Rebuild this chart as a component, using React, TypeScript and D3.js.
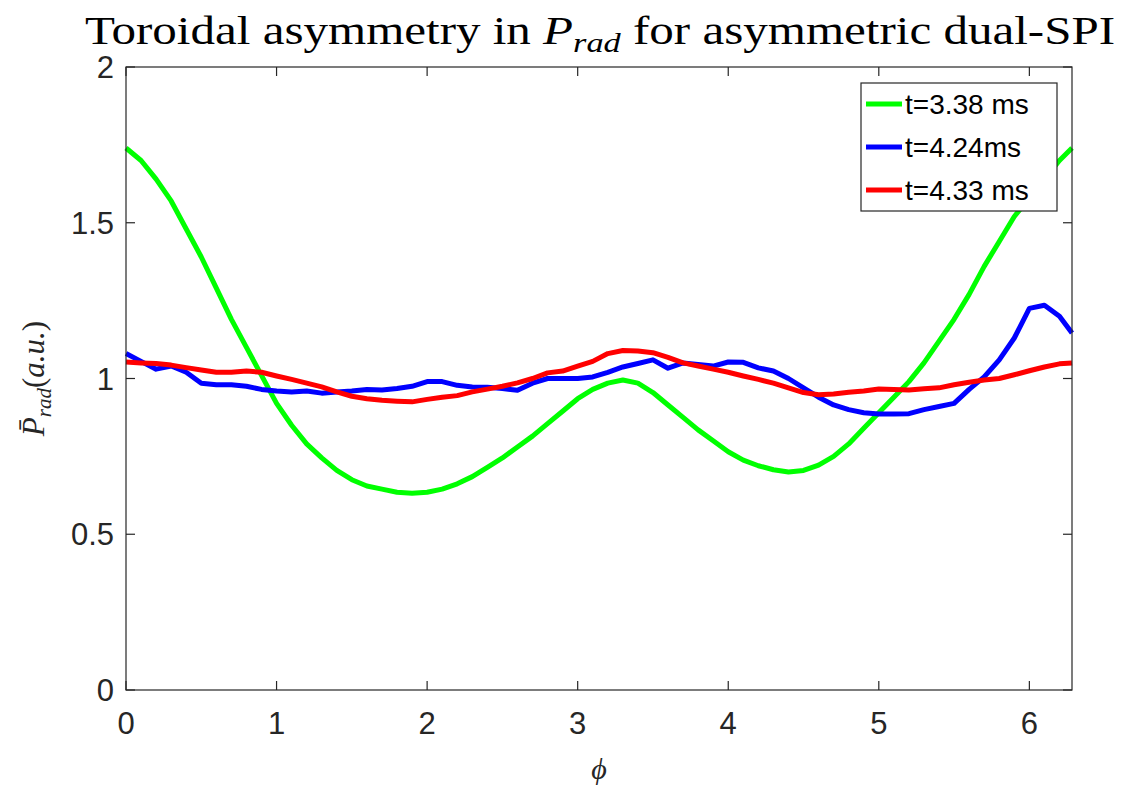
import React from "react";
import * as d3 from "d3";

const width = 1127, height = 788;
const margin = { left: 126, right: 55, top: 67, bottom: 98 };

// phi sample positions (rad)
const phi = [
  0, 0.1, 0.2, 0.3, 0.4, 0.5, 0.6, 0.7, 0.8, 0.9,
  1.0, 1.1, 1.2, 1.3, 1.4, 1.5, 1.6, 1.7, 1.8, 1.9,
  2.0, 2.1, 2.2, 2.3, 2.4, 2.5, 2.6, 2.7, 2.8, 2.9,
  3.0, 3.1, 3.2, 3.3, 3.4, 3.5, 3.6, 3.7, 3.8, 3.9,
  4.0, 4.1, 4.2, 4.3, 4.4, 4.5, 4.6, 4.7, 4.8, 4.9,
  5.0, 5.1, 5.2, 5.3, 5.4, 5.5, 5.6, 5.7, 5.8, 5.9,
  6.0, 6.1, 6.2, 6.2832,
];

const prad338 = [
  1.74, 1.70, 1.64, 1.57, 1.48, 1.39, 1.29, 1.19, 1.10, 1.01,
  0.92, 0.85, 0.79, 0.745, 0.705, 0.675, 0.655, 0.645, 0.635, 0.632,
  0.635, 0.645, 0.662, 0.685, 0.715, 0.745, 0.78, 0.815, 0.855, 0.895,
  0.935, 0.965, 0.985, 0.995, 0.985, 0.955, 0.915, 0.875, 0.835, 0.80,
  0.765, 0.738, 0.72, 0.707, 0.70, 0.705, 0.722, 0.75, 0.79, 0.84,
  0.89, 0.94, 0.99, 1.05, 1.12, 1.19, 1.27, 1.36, 1.44, 1.52,
  1.58, 1.64, 1.70, 1.74,
];

const prad424 = [
  1.08, 1.055, 1.03, 1.04, 1.02, 0.985, 0.98, 0.98, 0.975, 0.965,
  0.96, 0.957, 0.96, 0.953, 0.957, 0.96, 0.965, 0.963, 0.968, 0.975,
  0.99, 0.99, 0.978, 0.973, 0.972, 0.968, 0.962, 0.985, 1.0, 1.0,
  1.0, 1.005, 1.02, 1.037, 1.048, 1.06, 1.033, 1.05, 1.045, 1.04,
  1.053, 1.052, 1.034, 1.024, 1.0, 0.97, 0.94, 0.915, 0.90, 0.89,
  0.886, 0.886, 0.887, 0.90, 0.91, 0.92, 0.965, 1.005, 1.06, 1.13,
  1.225, 1.235, 1.20, 1.146,
];

const prad433 = [
  1.053, 1.05, 1.048, 1.043, 1.035, 1.027, 1.02, 1.02, 1.024, 1.02,
  1.008, 0.997, 0.985, 0.973, 0.957, 0.943, 0.935, 0.93, 0.927, 0.925,
  0.933, 0.94, 0.945, 0.957, 0.966, 0.975, 0.986, 1.0, 1.018, 1.024,
  1.04, 1.055, 1.08, 1.09, 1.088, 1.083, 1.068, 1.05, 1.04, 1.03,
  1.02, 1.008, 0.997, 0.985, 0.97, 0.955, 0.948, 0.95, 0.956, 0.96,
  0.966, 0.965, 0.963, 0.967, 0.97, 0.98, 0.988, 0.995, 1.0, 1.012,
  1.025, 1.037, 1.047, 1.05,
];

const seriesNames = ["t=3.38 ms", "t=4.24ms", "t=4.33 ms"];
const seriesColors = ["#00ff00", "#0000ff", "#ff0000"];
const seriesValues = [prad338, prad424, prad433];

const xTicks = [0, 1, 2, 3, 4, 5, 6];
const yTicks = [0, 0.5, 1, 1.5, 2];

const axisColor = "#262626";
const sans = "'Liberation Sans', Arial, sans-serif";
const serif = "'Liberation Serif', 'DejaVu Serif', serif";

export default function App() {
  const x = d3.scaleLinear().domain([0, 2 * Math.PI]).range([margin.left, width - margin.right]);
  const y = d3.scaleLinear().domain([0, 2]).range([height - margin.bottom, margin.top]);
  const line = d3.line<[number, number]>().x(d => x(d[0])).y(d => y(d[1]));

  const x0 = x.range()[0], x1 = x.range()[1];
  const y0 = y.range()[0], y1 = y.range()[1];
  const tick = 9;

  const leg = { x: 861, y: 83, w: 196, h: 128, row: 43 };

  return (
    <svg width={width} height={height} style={{ position: "absolute", left: 0, top: 0, background: "#fff" }}>
      <rect x={0} y={0} width={width} height={height} fill="#fff" />
      {/* title */}
      <text x={600} y={44} textAnchor="middle" fontFamily={serif} fontSize={40} fill="#000"
        textLength={1030} lengthAdjust="spacingAndGlyphs">
        Toroidal asymmetry in <tspan fontStyle="italic">P</tspan>
        <tspan fontStyle="italic" fontSize={28} dy={8}>rad</tspan>
        <tspan dy={-8}> for asymmetric dual-SPI</tspan>
      </text>

      {/* lines */}
      <g fill="none" strokeWidth={5} strokeLinejoin="round">
        {seriesValues.map((vals, i) => (
          <path key={i} d={line(phi.map((p, j) => [p, vals[j]]) as [number, number][]) || ""} stroke={seriesColors[i]} />
        ))}
      </g>

      {/* axes box */}
      <g stroke={axisColor} strokeWidth={1.2} fill="none">
        <rect x={x0} y={y1} width={x1 - x0} height={y0 - y1} />
        {xTicks.map(t => (
          <g key={"x" + t}>
            <line x1={x(t)} x2={x(t)} y1={y0} y2={y0 - tick} />
            <line x1={x(t)} x2={x(t)} y1={y1} y2={y1 + tick} />
          </g>
        ))}
        {yTicks.map(t => (
          <g key={"y" + t}>
            <line x1={x0} x2={x0 + tick} y1={y(t)} y2={y(t)} />
            <line x1={x1} x2={x1 - tick} y1={y(t)} y2={y(t)} />
          </g>
        ))}
      </g>

      {/* tick labels */}
      <g fontFamily={sans} fontSize={31} fill={axisColor}>
        {xTicks.map(t => (
          <text key={"xl" + t} x={x(t)} y={y0 + 44} textAnchor="middle">{t}</text>
        ))}
        {yTicks.map(t => (
          <text key={"yl" + t} x={x0 - 12} y={y(t) + 11} textAnchor="end">{t}</text>
        ))}
      </g>

      {/* axis labels */}
      <text x={(x0 + x1) / 2} y={779} textAnchor="middle" fontFamily={serif} fontStyle="italic" fontSize={30} fill={axisColor}>ϕ</text>
      <text transform={`translate(44, ${(y0 + y1) / 2}) rotate(-90)`} textAnchor="middle" fontFamily={serif} fontSize={31} fill={axisColor}>
        <tspan fontStyle="italic">P̄</tspan>
        <tspan fontStyle="italic" fontSize={21} dy={7}>rad</tspan>
        <tspan dy={-7}>(</tspan>
        <tspan fontStyle="italic">a.u.</tspan>
        <tspan>)</tspan>
      </text>

      {/* legend */}
      <rect x={leg.x} y={leg.y} width={leg.w} height={leg.h} fill="#fff" stroke={axisColor} strokeWidth={1.2} />
      {seriesNames.map((n, i) => {
        const cy = leg.y + 21 + i * leg.row;
        return (
          <g key={n}>
            <line x1={leg.x + 5} x2={leg.x + 41} y1={cy} y2={cy} stroke={seriesColors[i]} strokeWidth={5} />
            <text x={leg.x + 44} y={cy + 10} fontFamily={sans} fontSize={28} fill="#000">{n}</text>
          </g>
        );
      })}
    </svg>
  );
}
